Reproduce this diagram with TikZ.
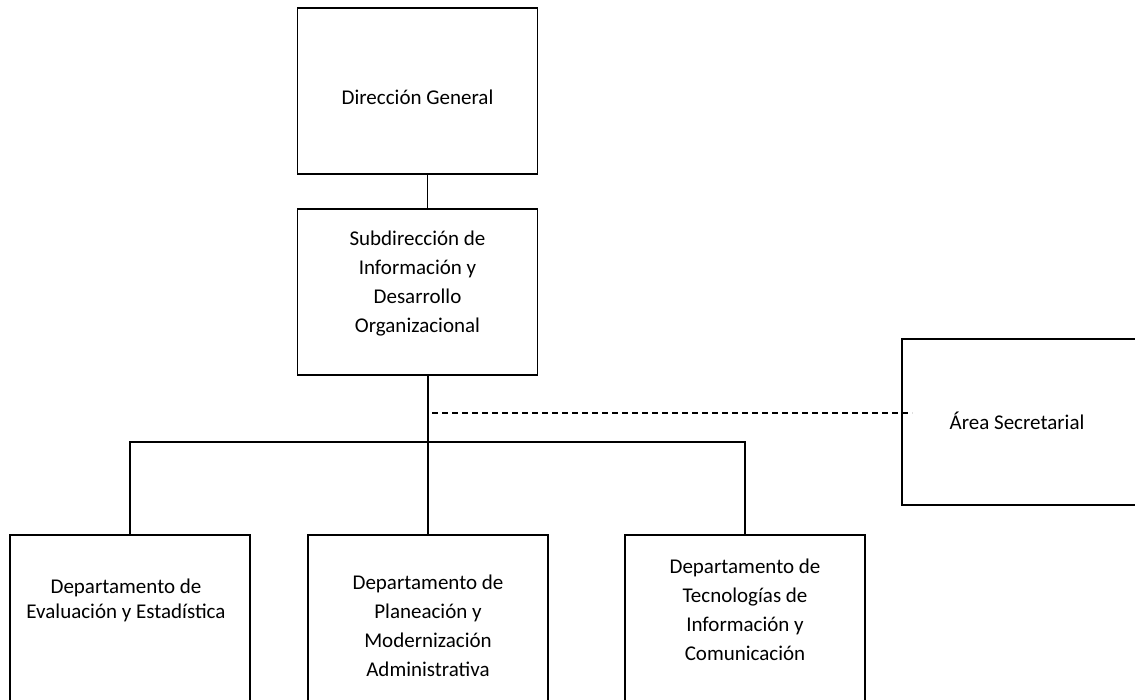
\documentclass[tikz,border=0pt]{standalone}
\usepackage{fontspec}
\setmainfont{Carlito}
\begin{document}
\begin{tikzpicture}[x=1pt,y=-1pt,
    box/.style={draw,line width=1.4pt,minimum width=240pt,minimum height=166pt,inner sep=0pt},
    txt/.style={align=center,inner sep=0pt,font=\fontsize{21}{29}\selectfont},
    line/.style={line width=1.4pt},
    dash line/.style={line width=1.4pt,dash pattern=on 6pt off 4pt}]
    \useasboundingbox (0,0) rectangle (1135,699);
    \clip (0,0) rectangle (1135,699);
    \node[box] (dg) at (417.5,91) {};
    \node[box] (sub) at (417.5,292) {};
    \node[box] (sec) at (1022,422) {};
    \node[box] (d1) at (130,618) {};
    \node[box] (d2) at (428,618) {};
    \node[box] (d3) at (745,618) {};
    \node[txt] (dg-t) at (417.5,97) {Dirección General};
    \node[txt] (sub-t) at (417.5,284) {Subdirección de\\Información y\\Desarrollo\\Organizacional};
    \node[txt] (sec-t) at (1017,421) {Área Secretarial};
    \node[txt,font=\fontsize{21}{25}\selectfont] (d1-t) at (126,600) {Departamento de\\Evaluación y Estadística};
    \node[txt] (d2-t) at (428,626) {Departamento de\\Planeación y\\Modernización\\Administrativa};
    \node[txt] (d3-t) at (745,610) {Departamento de\\Tecnologías de\\Información y\\Comunicación};
    \coordinate (bus) at (428,442);
    \coordinate (dashstart) at (432,413);
    \coordinate (dashend) at (912,413);
    \draw[line] ([xshift=10pt]dg.south) -- ([xshift=10pt]sub.north);
    \draw[line] ([xshift=10.5pt]sub.south) -- (d2.north);
    \draw[line] (d1.north) |- (bus) -| (d3.north);
    \draw[dash line] (dashstart) -- (dashend);
\end{tikzpicture}
\end{document}
